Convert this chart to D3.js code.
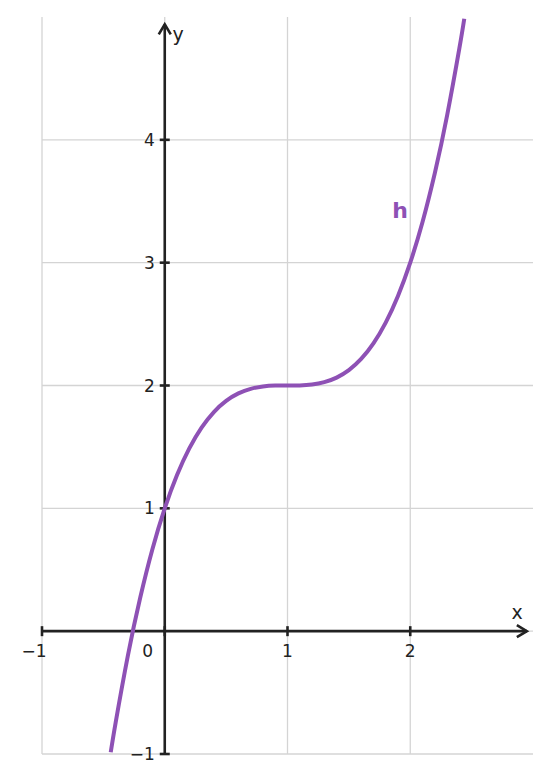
<!DOCTYPE html>
<html>
<head>
<meta charset="utf-8">
<script src="https://cdn.jsdelivr.net/npm/d3@7"></script>
<style>
  html, body { margin: 0; padding: 0; background: #fff; }
  svg text { font-family: "DejaVu Sans", sans-serif; }
</style>
</head>
<body>
<svg id="chart" width="551" height="783"></svg>
<script>
'use strict';

// values
var xTicks = [-1, 0, 1, 2];
var yTicks = [-1, 1, 2, 3, 4];
var xGrid = [-1, 0, 1, 2];
var yGrid = [-1, 0, 1, 2, 3, 4];

var curveX = [-0.44, -0.4, -0.3, -0.2, -0.1, 0, 0.1, 0.2, 0.3, 0.4, 0.5, 0.6, 0.7, 0.8, 0.9, 1.0,
  1.1, 1.2, 1.3, 1.4, 1.5, 1.6, 1.7, 1.8, 1.9, 2.0, 2.1, 2.2, 2.3, 2.4, 2.44];
var curveY = [-0.986, -0.744, -0.197, 0.272, 0.669, 1.000, 1.271, 1.488, 1.657, 1.784, 1.875, 1.936, 1.973, 1.992, 1.999, 2.000,
  2.001, 2.008, 2.027, 2.064, 2.125, 2.216, 2.343, 2.512, 2.729, 3.000, 3.331, 3.728, 4.197, 4.744, 4.986];

var svg = d3.select('#chart');
var ink = '#222';
var purple = '#8e51b5';

var x = d3.scaleLinear().domain([-1, 3]).range([42, 533]);
var y = d3.scaleLinear().domain([-1, 5]).range([754, 17]);

// grid
var grid = svg.append('g').attr('class', 'grid')
  .attr('stroke', '#d4d4d4').attr('stroke-width', 1.3);
grid.selectAll('line.v').data(xGrid).enter().append('line')
  .attr('x1', function (d) { return x(d); }).attr('x2', function (d) { return x(d); })
  .attr('y1', y(5)).attr('y2', y(-1));
grid.selectAll('line.h').data(yGrid).enter().append('line')
  .attr('y1', function (d) { return y(d); }).attr('y2', function (d) { return y(d); })
  .attr('x1', x(-1)).attr('x2', x(3));

// curve clip
svg.append('clipPath').attr('id', 'plotclip').append('rect')
  .attr('x', x(-1)).attr('y', y(5)).attr('width', x(3) - x(-1)).attr('height', y(-1) - y(5));

var pts = curveX.map(function (d, i) { return [d, curveY[i]]; });
var line = d3.line()
  .x(function (d) { return x(d[0]); })
  .y(function (d) { return y(d[1]); })
  .curve(d3.curveNatural);

// axes
var axes = svg.append('g').attr('stroke', ink).attr('stroke-width', 2.6).attr('fill', 'none');
axes.append('line').attr('x1', x(-1)).attr('x2', x(2.95)).attr('y1', y(0)).attr('y2', y(0));
axes.append('line').attr('x1', x(0)).attr('x2', x(0)).attr('y1', y(-1)).attr('y2', y(4.94));
// arrow heads
axes.append('path')
  .attr('d', 'M' + (x(2.95) - 10) + ',' + (y(0) - 6) + 'L' + x(2.95) + ',' + y(0) + 'L' + (x(2.95) - 10) + ',' + (y(0) + 6))
  .attr('stroke-linejoin', 'miter');
axes.append('path')
  .attr('d', 'M' + (x(0) - 6) + ',' + (y(4.94) + 10) + 'L' + x(0) + ',' + y(4.94) + 'L' + (x(0) + 6) + ',' + (y(4.94) + 10))
  .attr('stroke-linejoin', 'miter');

// ticks
axes.selectAll('line.xt').data(xTicks).enter().append('line')
  .attr('x1', function (d) { return x(d); }).attr('x2', function (d) { return x(d); })
  .attr('y1', y(0) - 5).attr('y2', y(0) + 5);
axes.selectAll('line.yt').data(yTicks).enter().append('line')
  .attr('y1', function (d) { return y(d); }).attr('y2', function (d) { return y(d); })
  .attr('x1', x(0) - 5).attr('x2', x(0) + 5);

svg.append('path').datum(pts)
  .attr('clip-path', 'url(#plotclip)')
  .attr('d', line)
  .attr('fill', 'none')
  .attr('stroke', purple)
  .attr('stroke-width', 4);

// tick labels
var fmt = function (d) { return d < 0 ? '\u2212' + Math.abs(d) : String(d); };
svg.selectAll('text.xl').data(xTicks.filter(function (d) { return d !== 0; })).enter().append('text')
  .attr('x', function (d) { return x(d) - (d < 0 ? 8 : 0); }).attr('y', y(0) + 26)
  .attr('text-anchor', 'middle').attr('font-size', 17).attr('fill', ink)
  .text(fmt);
svg.append('text').attr('x', x(0) - 17).attr('y', y(0) + 26)
  .attr('text-anchor', 'middle').attr('font-size', 17).attr('fill', ink).text('0');
svg.selectAll('text.yl').data(yTicks).enter().append('text')
  .attr('x', x(0) - 10).attr('y', function (d) { return y(d) + 6; })
  .attr('text-anchor', 'end').attr('font-size', 17).attr('fill', ink)
  .text(fmt);

// axis names
svg.append('text').attr('x', 517).attr('y', 619).attr('text-anchor', 'middle')
  .attr('font-size', 19).attr('fill', ink).text('x');
svg.append('text').attr('x', 178).attr('y', 41).attr('text-anchor', 'middle')
  .attr('font-size', 19).attr('fill', ink).text('y');

// function label
svg.append('text').attr('x', 400).attr('y', 218).attr('text-anchor', 'middle')
  .attr('font-size', 22).attr('font-weight', 'bold').attr('fill', purple).text('h');
</script>
</body>
</html>
